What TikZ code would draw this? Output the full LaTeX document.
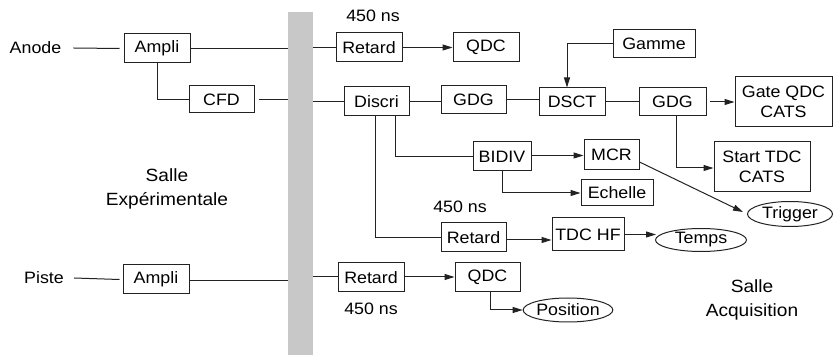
\documentclass[tikz,border=0pt]{standalone}
\usepackage{fontspec}
\setmainfont{Liberation Sans}[FakeStretch=1.08]
\usetikzlibrary{arrows.meta,shapes.geometric}
\definecolor{bargray}{HTML}{C8C8C8}
\definecolor{ink}{HTML}{222222}
\begin{document}
\begin{tikzpicture}[x=1pt,y=-1pt,
  box/.style={draw=ink, line width=1pt, inner sep=0pt, align=center,
    font=\fontsize{16.5}{19.5}\selectfont},
  oval/.style={ellipse, draw=ink, line width=1pt, inner sep=0pt,
    font=\fontsize{16.5}{19.5}\selectfont},
  wire/.style={draw=ink, line width=1pt},
  arr/.style={wire, -{Triangle[length=10pt,width=6pt]}},
  lbl/.style={inner sep=0pt, font=\fontsize{16.5}{19.5}\selectfont},
  room/.style={inner sep=0pt, align=center, font=\fontsize{17.7}{23.5}\selectfont}
]
\useasboundingbox (0,0) rectangle (833,355);

% separating wall
\node[fill=bargray, minimum width=25pt, minimum height=343pt, inner sep=0pt, anchor=north] (bar) at (300.5,12) {};

% labels
\node[lbl] (anode) at (35.5,48) {Anode};
\node[lbl] (piste) at (44,278) {Piste};
\node[lbl] (d1) at (373,16) {450 ns};
\node[lbl] (d3) at (460,207) {450 ns};
\node[lbl] (d4) at (371,309) {450 ns};
\node[room] (exp) at (167,189) {Salle\\Expérimentale};
\node[room] (acq) at (752,300) {Salle\\Acquisition};

% boxes
\node[box, minimum width=66pt, minimum height=29pt] (ampA) at (157,48.5) {Ampli};
\node[box, minimum width=65pt, minimum height=27pt] (cfd) at (221.5,99.5) {CFD};
\node[box, minimum width=66pt, minimum height=29pt] (ret1) at (369,47.5) {Retard};
\node[box, minimum width=66pt, minimum height=29pt] (qdc1) at (486,47.5) {QDC};
\node[box, minimum width=65pt, minimum height=29pt] (discri) at (376.5,101.5) {Discri};
\node[box, minimum width=65pt, minimum height=28pt] (gdg1) at (473.5,100) {GDG};
\node[box, minimum width=66pt, minimum height=28pt] (dsct) at (572,102) {DSCT};
\node[box, minimum width=82pt, minimum height=28pt] (gamme) at (654,44) {Gamme};
\node[box, minimum width=67pt, minimum height=28pt] (gdg2) at (672.5,102) {GDG};
\node[box, minimum width=97pt, minimum height=50pt] (gate) at (783.5,102) {Gate QDC\\CATS};
\node[box, minimum width=96pt, minimum height=50pt] (start) at (762,167) {Start TDC\\CATS};
\node[box, minimum width=58pt, minimum height=29pt] (bidiv) at (502,156.5) {BIDIV};
\node[box, minimum width=55pt, minimum height=30pt] (mcr) at (611.5,155) {MCR};
\node[box, minimum width=72pt, minimum height=26pt] (echelle) at (617,193) {Echelle};
\node[box, minimum width=65pt, minimum height=29pt] (ret3) at (473.5,237.5) {Retard};
\node[box, minimum width=72pt, minimum height=33pt] (tdchf) at (588,234.5) {TDC HF};
\node[box, minimum width=66pt, minimum height=29pt] (ampP) at (156,279.5) {Ampli};
\node[box, minimum width=66pt, minimum height=29pt] (ret4) at (371,277.5) {Retard};
\node[box, minimum width=65pt, minimum height=29pt] (qdc2) at (487.5,277.5) {QDC};

% ovals
\node[oval, minimum width=85pt, minimum height=25pt] (trigger) at (790,214) {Trigger};
\node[oval, minimum width=91pt, minimum height=23pt] (temps) at (701,240) {Temps};
\node[oval, minimum width=87pt, minimum height=24pt] (position) at (568,310) {Position};

% anode chain
\draw[wire] ([xshift=12pt]anode.east) -- ([xshift=-4pt]ampA.west);
\draw[wire] (ampA.east) -- (ampA.east -| bar.west);
\draw[wire] (ampA.south) |- (cfd.west);
\draw[wire] ([xshift=4pt]cfd.east) -- (cfd.east -| bar.west);
\draw[wire] (ret1.west -| bar.east) -- (ret1.west);
\draw[arr] (ret1.east) -- (qdc1.west);
\draw[wire] (discri.west -| bar.east) -- (discri.west);
\draw[wire] (discri.east) -- (discri.east -| gdg1.west);
\draw[wire] (gdg1.east) -- (gdg1.east -| dsct.west);
\draw[arr] (gamme.west) -| ([xshift=-5pt]dsct.north);
\draw[wire] (dsct.east) -- (gdg2.west);
\draw[arr] ([xshift=3pt]gdg2.east) -- (gdg2.east -| gate.west);
\draw[arr] ([xshift=4pt]gdg2.south) |- ([yshift=-1pt]start.west);
\draw[wire] ([xshift=18.5pt]discri.south) |- (bidiv.west);
\draw[wire] ([xshift=-1.5pt]discri.south) |- (ret3.west);
\draw[arr] ([yshift=1pt]bidiv.east) -- ([yshift=1pt]bidiv.east -| mcr.west);
\draw[arr] (bidiv.south) |- (echelle.west);
\draw[arr] ([yshift=-7pt]mcr.east) -- ([xshift=-4pt,yshift=2pt]trigger.west);
\draw[arr] ([yshift=-2.5pt]ret3.east) -- ([yshift=-2.5pt]ret3.east -| tdchf.west);
\draw[arr] (tdchf.east) -- ([xshift=1pt]tdchf.east -| temps.west);

% piste chain
\draw[wire] ([xshift=10pt]piste.east) -- ([xshift=-3pt]ampP.west);
\draw[wire] ([yshift=-1.5pt]ampP.east) -- ([yshift=-1.5pt]ampP.east -| bar.west);
\draw[wire] ([yshift=0.5pt]ret4.west -| bar.east) -- ([yshift=0.5pt]ret4.west);
\draw[arr] ([yshift=0.5pt]ret4.east) -- ([yshift=0.5pt]qdc2.west);
\draw[arr] ([xshift=2.5pt]qdc2.south) |- (position.west);
\end{tikzpicture}
\end{document}
